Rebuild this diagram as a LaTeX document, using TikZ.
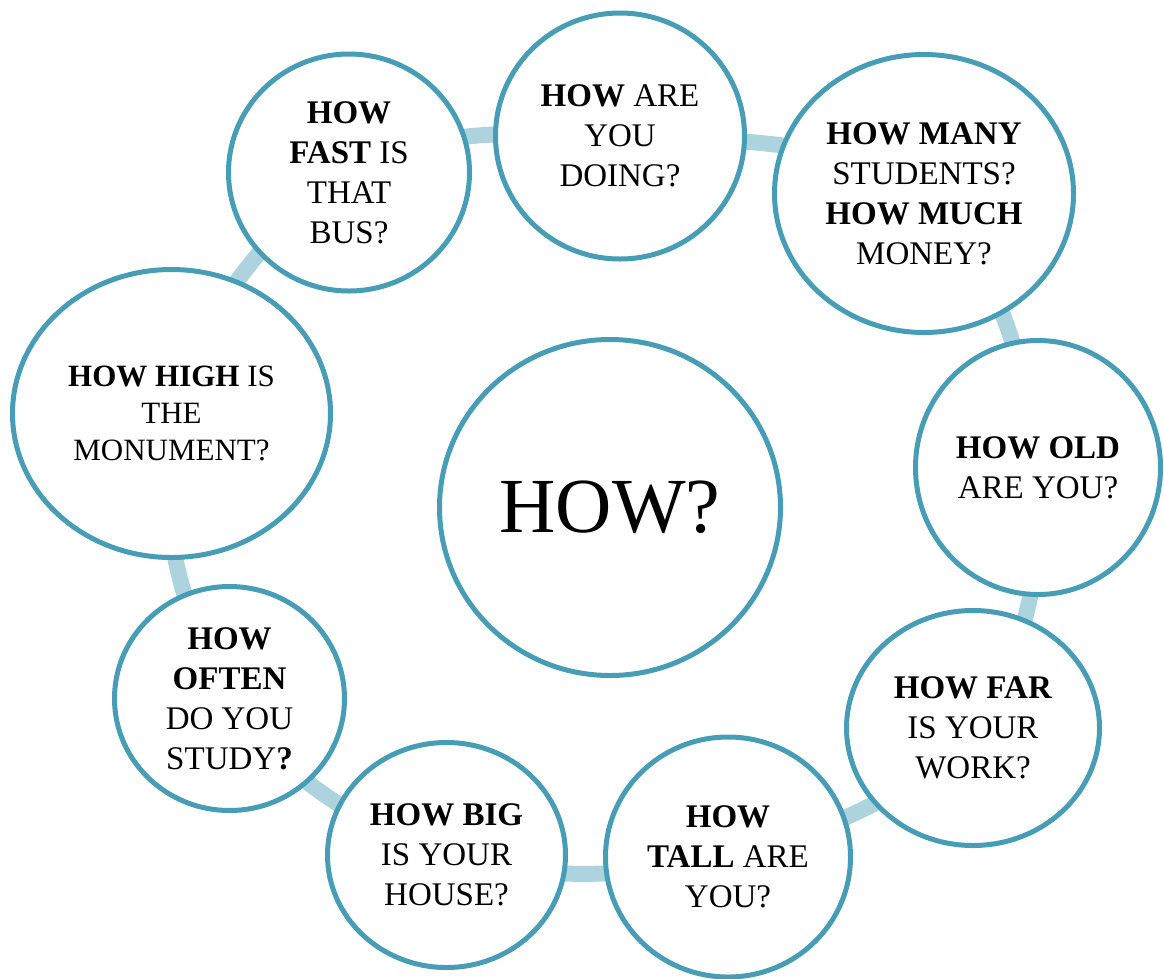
\documentclass[tikz,border=0pt]{standalone}
\usepackage{fontspec}
\setmainfont{Liberation Serif}
\usetikzlibrary{shapes.geometric,backgrounds}
\definecolor{rim}{HTML}{479DB6}
\definecolor{ringc}{HTML}{ADD3DF}
\tikzset{
  bub/.style={ellipse, draw=rim, line width=5pt, fill=white, inner sep=0pt,
    align=center, font=\fontsize{33}{40}\selectfont},
  ringline/.style={draw=ringc, line width=16pt}
}
\begin{document}
\begin{tikzpicture}[x=1pt,y=-1pt]
\useasboundingbox (0,0) rectangle (1164,978);
\node[bub, minimum width=249pt, minimum height=246pt] (doing) at (620,136) {\textbf{HOW} ARE\\YOU\\DOING?};
\node[bub, minimum width=299pt, minimum height=278pt] (many) at (924,193.5) {\textbf{HOW MANY}\\STUDENTS?\\\textbf{HOW MUCH}\\MONEY?};
\node[bub, minimum width=245pt, minimum height=254pt] (old) at (1038,467.5) {\textbf{HOW OLD}\\ARE YOU?};
\node[bub, minimum width=253pt, minimum height=235pt] (far) at (973,728) {\textbf{HOW FAR}\\IS YOUR\\WORK?};
\node[bub, minimum width=245pt, minimum height=240pt] (tall) at (728,857) {\textbf{HOW}\\\textbf{TALL} ARE\\YOU?};
\node[bub, minimum width=238pt, minimum height=225pt] (big) at (446.5,855) {\textbf{HOW BIG}\\IS YOUR\\HOUSE?};
\node[bub, minimum width=230pt, minimum height=224pt] (often) at (229.5,698.5) {\textbf{HOW}\\\textbf{OFTEN}\\DO YOU\\STUDY\textbf{?}};
\node[bub, minimum width=318pt, minimum height=288pt, font=\fontsize{31}{37}\selectfont] (high) at (171.5,413.5) {\textbf{HOW HIGH} IS\\THE\\MONUMENT?};
\node[bub, minimum width=241pt, minimum height=237pt] (fast) at (349,172.5) {\textbf{HOW}\\\textbf{FAST} IS\\THAT\\BUS?};
\node[bub, minimum width=341pt, minimum height=336pt, font=\fontsize{78}{90}\selectfont] (how) at (610,507.5) {HOW?};
\begin{scope}[on background layer]
\draw[ringline] plot[smooth cycle, tension=0.6] coordinates {(doing.center) (many.center) (old.center) (far.center) (tall.center) (big.center) (often.center) (high.center) (fast.center)};
\end{scope}
\end{tikzpicture}
\end{document}
